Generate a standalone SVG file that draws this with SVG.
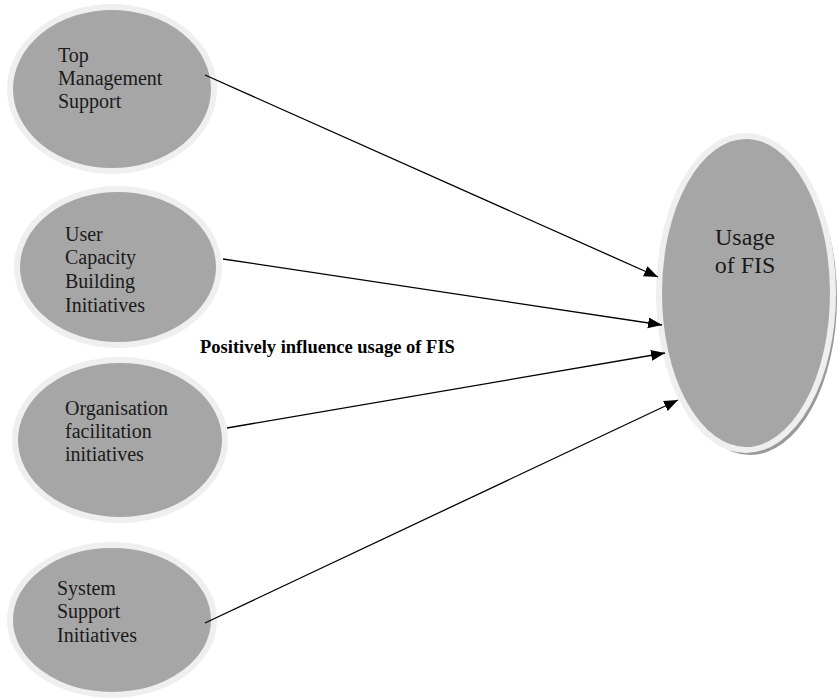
<svg xmlns="http://www.w3.org/2000/svg" width="838" height="700" viewBox="0 0 838 700">
<style>
.ring{fill:#a6a6a6;stroke:#efefef;stroke-width:6}
.shadow{fill:#999999}
.lbl{font-family:"Liberation Serif","Times New Roman",serif;font-size:20px;fill:#1a1a1a}
.big{font-family:"Liberation Serif","Times New Roman",serif;font-size:24px;fill:#1a1a1a;text-anchor:middle}
.title{font-family:"Liberation Serif","Times New Roman",serif;font-size:18.5px;font-weight:bold;fill:#000}
.conn{stroke:#000;stroke-width:1.3;fill:none;marker-end:url(#arr)}
</style>
<defs>
<marker id="arr" markerUnits="userSpaceOnUse" markerWidth="16" markerHeight="12" refX="14" refY="5.5" orient="auto">
<path d="M0,0 L14,5.5 L0,11 Z" fill="#000"/>
</marker>
</defs>
<rect width="838" height="700" fill="#fff"/>
<g id="n1">
<ellipse class="ring" cx="112" cy="89" rx="102" ry="82"/>
<text class="lbl" x="58" y="62">Top</text>
<text class="lbl" x="58" y="85">Management</text>
<text class="lbl" x="58" y="108">Support</text>
</g>
<g id="n2">
<ellipse class="ring" cx="118" cy="267" rx="101" ry="78"/>
<text class="lbl" x="65" y="241">User</text>
<text class="lbl" x="65" y="264">Capacity</text>
<text class="lbl" x="65" y="288">Building</text>
<text class="lbl" x="65" y="312">Initiatives</text>
</g>
<g id="n3">
<ellipse class="ring" cx="120" cy="440" rx="105" ry="80"/>
<text class="lbl" x="65" y="415">Organisation</text>
<text class="lbl" x="65" y="438">facilitation</text>
<text class="lbl" x="65" y="461">initiatives</text>
</g>
<g id="n4">
<ellipse class="ring" cx="112" cy="620" rx="102" ry="75"/>
<text class="lbl" x="57" y="595">System</text>
<text class="lbl" x="57" y="618">Support</text>
<text class="lbl" x="57" y="642">Initiatives</text>
</g>
<g id="n5">
<ellipse class="shadow" cx="750" cy="298" rx="87" ry="157"/>
<ellipse class="ring" cx="746" cy="293" rx="87" ry="157"/>
<text class="big" x="745" y="245">Usage</text>
<text class="big" x="745" y="273">of FIS</text>
</g>
<g id="connectors">
<line class="conn" x1="205" y1="75" x2="658" y2="277"/>
<line class="conn" x1="223" y1="259" x2="662" y2="325"/>
<line class="conn" x1="227" y1="428" x2="665" y2="353"/>
<line class="conn" x1="205" y1="623" x2="678" y2="400"/>
</g>
<text class="title" x="200" y="353">Positively influence usage of FIS</text>
</svg>
